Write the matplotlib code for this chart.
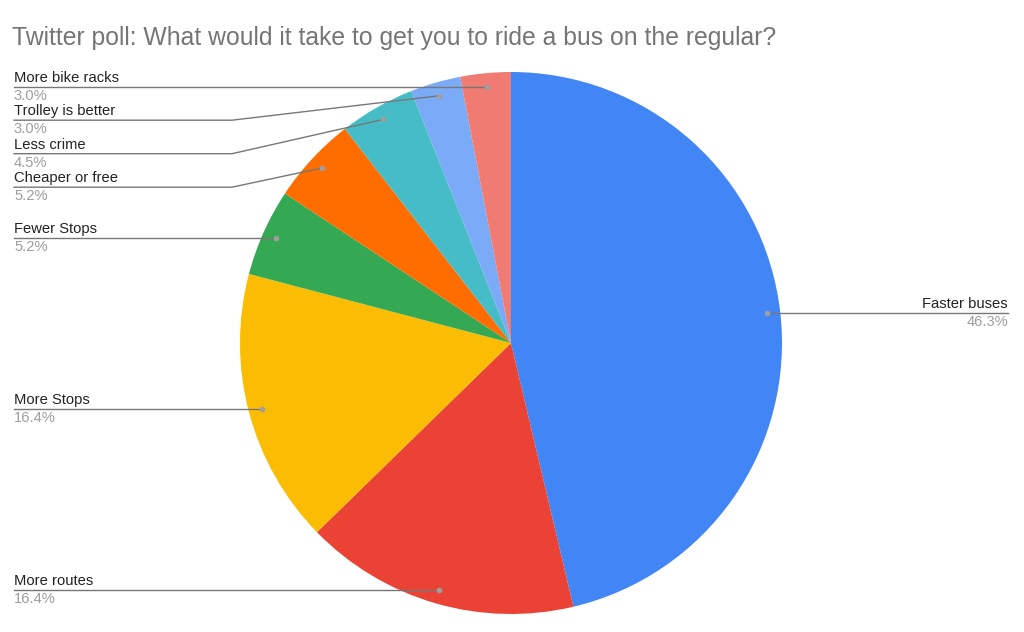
import matplotlib.pyplot as plt
import numpy as np

# Poll results, clockwise from the top
labels = ['Faster buses', 'More routes', 'More Stops', 'Fewer Stops',
          'Cheaper or free', 'Less crime', 'Trolley is better', 'More bike racks']
shares = [46.3, 16.4, 16.4, 5.2, 5.2, 4.5, 3.0, 3.0]
colors = ['#4285F4', '#EA4335', '#FBBC04', '#34A853',
          '#FF6D01', '#46BDC6', '#7BAAF7', '#F07B72']

title = 'Twitter poll: What would it take to get you to ride a bus on the regular?'

W, H = 1024, 632
plt.rcParams['font.family'] = ['Liberation Sans', 'DejaVu Sans']

fig = plt.figure(figsize=(W / 100, H / 100), dpi=100)
ax = fig.add_axes([0, 0, 1, 1])

cx, cy, r = 511, H - 343, 271
wedges, _ = ax.pie(shares, colors=colors, startangle=90, counterclock=False,
                   center=(cx, cy), radius=r, wedgeprops=dict(linewidth=0))
ax.set_xlim(0, W)
ax.set_ylim(0, H)
ax.set_aspect('equal')
ax.set_axis_off()

ax.text(12, H - 38, title, fontsize=17.8, color='#757575',
        va='center', ha='left')

line_c = '#777777'
dot_c = '#9e9e9e'
name_c = '#222222'
pct_c = '#9e9e9e'
fs = 10.6

# anchor points inside each slice
pts = []
for w in wedges:
    mid = np.deg2rad((w.theta1 + w.theta2) / 2)
    pts.append((cx + 0.95 * r * np.cos(mid), cy + 0.95 * r * np.sin(mid)))

def draw_label(i, ly, side):
    px, py = pts[i]
    if side == 'left':
        x0 = 14
        if abs(ly - py) < 2:
            ax.plot([x0, px], [ly, ly], color=line_c, lw=1)
        else:
            ax.plot([x0, 232, px], [ly, ly, py], color=line_c, lw=1)
        ha = 'left'
    else:
        x0 = 1008
        ax.plot([px, x0], [ly, ly], color=line_c, lw=1)
        ha = 'right'
    ax.plot(px, py, 'o', color=dot_c, ms=4, mec='none')
    ax.text(x0, ly + 2, labels[i], fontsize=fs, color=name_c, ha=ha, va='bottom')
    ax.text(x0, ly - 2, '%.1f%%' % shares[i], fontsize=fs, color=pct_c, ha=ha, va='top')

# right side
draw_label(0, pts[0][1], 'right')

# left side, stacked top to bottom
left = sorted(range(1, len(labels)), key=lambda i: -pts[i][1])
prev = None
for i in left:
    ly = pts[i][1]
    if prev is not None and ly > prev - 33.5:
        ly = prev - 33.5
    draw_label(i, ly, 'left')
    prev = ly

fig.savefig('out.png', dpi=100)
